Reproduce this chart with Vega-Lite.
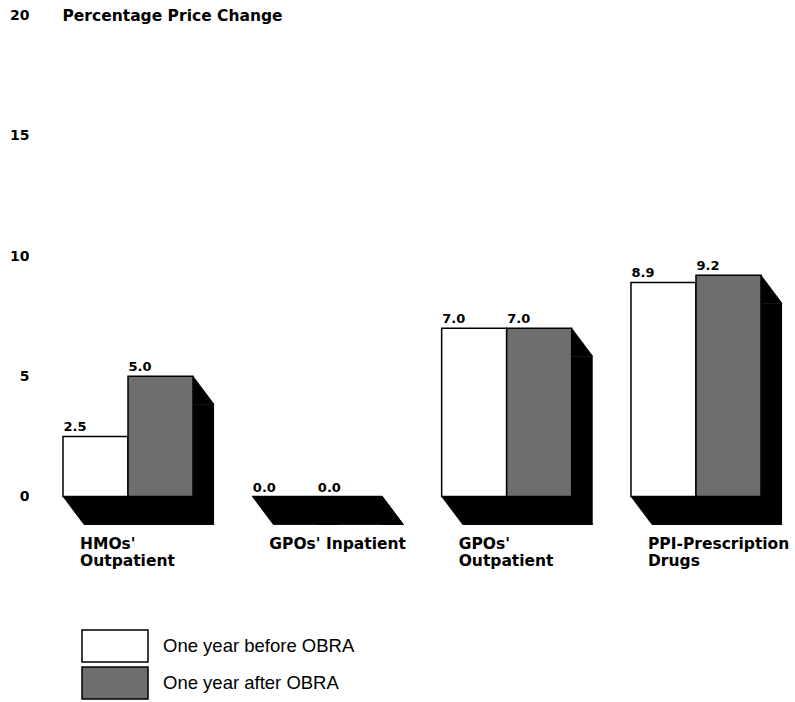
{
  "$schema": "https://vega.github.io/schema/vega-lite/v6.json",
  "autosize": "none",
  "width": 698,
  "height": 481,
  "padding": {"left": 63, "top": 15.5, "right": 34, "bottom": 205.5},
  "background": "white",
  "config": {"view": {"stroke": null}, "font": "DejaVu Sans"},
  "data": {
    "values": [
      {"category": "HMOs' Outpatient", "period": "One year before OBRA", "change": 2.5},
      {"category": "HMOs' Outpatient", "period": "One year after OBRA", "change": 5.0},
      {"category": "GPOs' Inpatient", "period": "One year before OBRA", "change": 0.0},
      {"category": "GPOs' Inpatient", "period": "One year after OBRA", "change": 0.0},
      {"category": "GPOs' Outpatient", "period": "One year before OBRA", "change": 7.0},
      {"category": "GPOs' Outpatient", "period": "One year after OBRA", "change": 7.0},
      {"category": "PPI-Prescription Drugs", "period": "One year before OBRA", "change": 8.9},
      {"category": "PPI-Prescription Drugs", "period": "One year after OBRA", "change": 9.2}
    ]
  },
  "encoding": {
    "x": {
      "field": "category",
      "type": "nominal",
      "sort": null,
      "scale": {"paddingInner": 0.3133, "paddingOuter": 0},
      "axis": {
        "title": null,
        "domain": false,
        "ticks": false,
        "labelAngle": 0,
        "labelAlign": "left",
        "labelBaseline": "top",
        "labelOffset": -48,
        "labelPadding": 40,
        "labelFont": "DejaVu Sans",
        "labelFontWeight": "bold",
        "labelFontSize": 15.5,
        "labelColor": "black",
        "labelLineHeight": 17,
        "labelLimit": 0,
        "labelOverlap": false,
        "labelBound": false,
        "labelExpr": "datum.value === \"GPOs' Inpatient\" ? datum.value : split(datum.value, ' ')"
      }
    },
    "xOffset": {
      "field": "period",
      "type": "nominal",
      "sort": ["One year before OBRA", "One year after OBRA"]
    },
    "y": {
      "field": "change",
      "type": "quantitative",
      "scale": {"domain": [0, 20]},
      "axis": {
        "title": "Percentage Price Change",
        "titleAngle": 0,
        "titleAlign": "left",
        "titleBaseline": "middle",
        "titleX": -1,
        "titleY": 0,
        "titleFont": "DejaVu Sans",
        "titleFontWeight": "bold",
        "titleFontSize": 15.5,
        "titleColor": "black",
        "values": [0, 5, 10, 15, 20],
        "grid": false,
        "domain": false,
        "ticks": false,
        "labelAlign": "right",
        "labelPadding": 34,
        "labelFont": "DejaVu Sans",
        "labelFontWeight": "bold",
        "labelFontSize": 14,
        "labelColor": "black"
      }
    }
  },
  "resolve": {"scale": {"xOffset": "independent"}},
  "layer": [
    {
      "mark": {"type": "bar", "color": "black", "yOffset": 28, "y2Offset": 28},
      "encoding": {
        "xOffset": {
          "field": "period",
          "type": "nominal",
          "sort": ["One year before OBRA", "One year after OBRA"],
          "scale": {"range": [21, 151.07]}
        }
      }
    },
    {
      "mark": {"type": "point", "shape": "M32.5,0L53.5,28L32.5,28Z", "size": 4, "filled": true, "fill": "black", "stroke": "black", "strokeWidth": 0.8, "opacity": 1}
    },
    {
      "mark": {"type": "point", "shape": "M-32.5,0L32.5,0L53.5,28L-11.5,28Z", "size": 4, "filled": true, "fill": "black", "stroke": "black", "strokeWidth": 0.8, "opacity": 1},
      "encoding": {"y": {"datum": 0, "type": "quantitative"}}
    },
    {
      "mark": {"type": "bar", "stroke": "black", "strokeWidth": 1.5},
      "encoding": {
        "fill": {
          "field": "period",
          "type": "nominal",
          "scale": {"domain": ["One year before OBRA", "One year after OBRA"], "range": ["white", "#6e6e6e"]},
          "legend": {
            "orient": "none",
            "legendX": 18,
            "legendY": 613,
            "title": null,
            "symbolType": "M-1,-0.97H3V0.97H-1Z",
            "symbolSize": 1089,
            "symbolStrokeColor": "black",
            "symbolStrokeWidth": 1.5,
            "symbolOpacity": 1,
            "labelFont": "Liberation Sans",
            "labelFontSize": 18.5,
            "labelColor": "black",
            "labelOffset": 47,
            "labelLimit": 400,
            "rowPadding": -4
          }
        }
      }
    },
    {
      "mark": {"type": "text", "align": "left", "baseline": "alphabetic", "dx": -32, "dy": -5, "font": "DejaVu Sans", "fontWeight": "bold", "fontSize": 13, "color": "black"},
      "encoding": {"text": {"field": "change", "type": "quantitative", "format": ".1f"}}
    }
  ]
}
